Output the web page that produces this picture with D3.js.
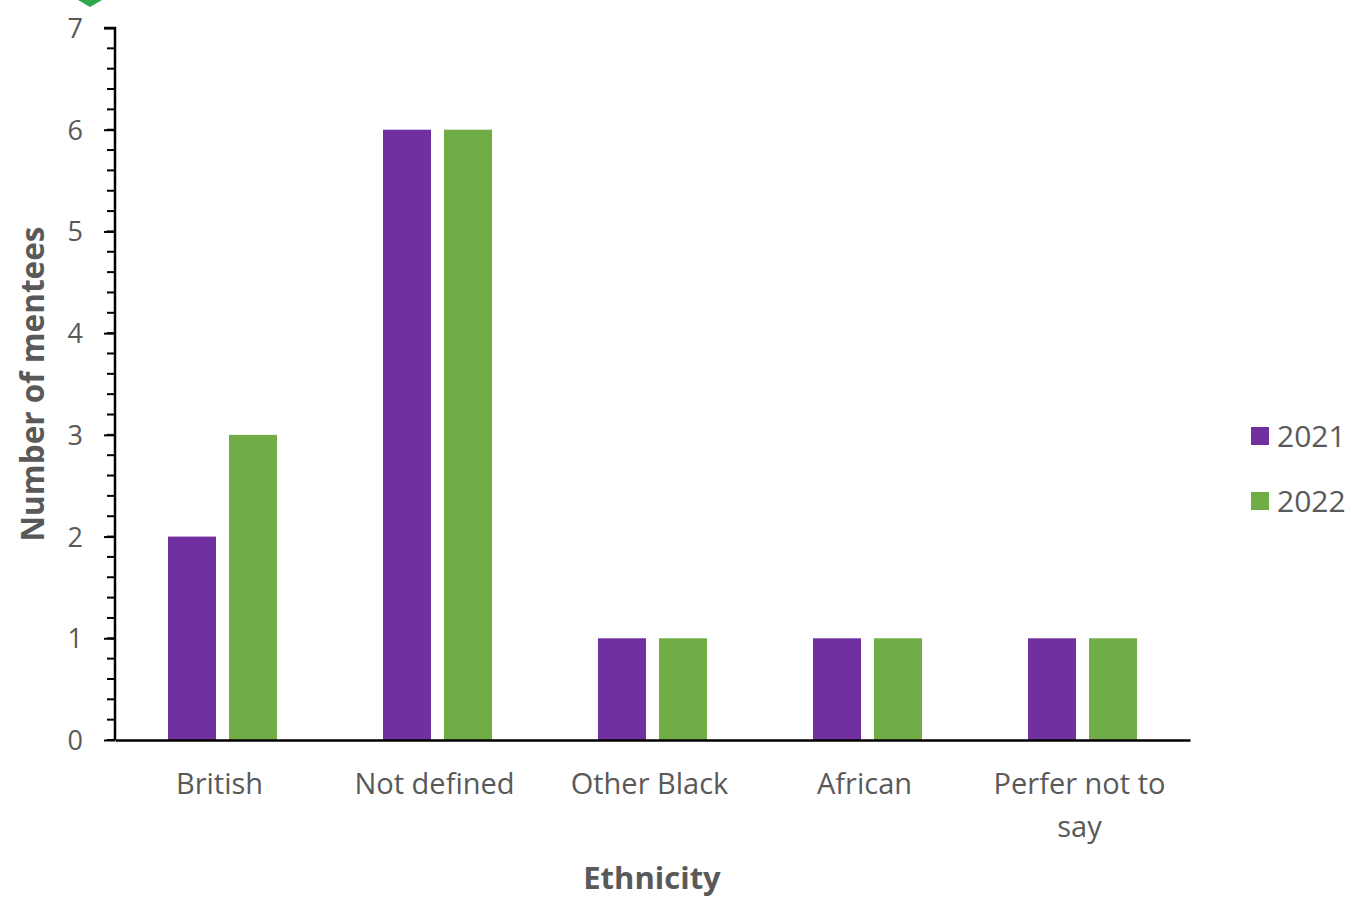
<!DOCTYPE html>
<html><head><meta charset="utf-8">
<script src="https://cdn.jsdelivr.net/npm/d3@7"></script>
<style>body{margin:0;background:#fff}svg{display:block}text{font-family:"Open Sans","Liberation Sans",sans-serif;fill:#595959}</style>
</head><body>
<svg id="chart" width="1352" height="899"></svg>
<script>
const categories = ["British", "Not defined", "Other Black", "African", "Perfer not to say"];
const categoryLines = [["British"], ["Not defined"], ["Other Black"], ["African"], ["Perfer not to", "say"]];
const seriesNames = ["2021", "2022"];
const values2021 = [2, 6, 1, 1, 1];
const values2022 = [3, 6, 1, 1, 1];
const yTicks = [0, 1, 2, 3, 4, 5, 6, 7];
const colors = ["#7030A0", "#70AD47"];

(function(){
const FONT = '"Open Sans","Liberation Sans",sans-serif';
const svg = d3.select("#chart");
const mLeft = 115, mRight = 1190, mTop = 28, mBottom = 740;

const x0 = d3.scaleBand().domain(categories).range([mLeft, mRight]).padding(0);
const x1 = d3.scaleBand().domain(seriesNames).range([53, 162]).paddingInner(13/61).paddingOuter(0);
const y = d3.scaleLinear().domain([0, 7]).range([mBottom, mTop]);

// decorative marker at top
svg.append("path").attr("d", "M78,0 L102,0 L90,7 Z").attr("fill", "#2EA84A");

// bars
const series = [values2021, values2022];
seriesNames.forEach((s, si) => {
  svg.append("g").selectAll("rect").data(categories).join("rect")
    .attr("x", c => x0(c) + x1(s))
    .attr("width", x1.bandwidth())
    .attr("y", (c, i) => y(series[si][i]))
    .attr("height", (c, i) => mBottom - y(series[si][i]))
    .attr("fill", colors[si]);
});

// y axis minor ticks
const minor = d3.range(0, 7.001, 0.2).map(v => +v.toFixed(1));
svg.append("g").selectAll("line").data(minor).join("line")
  .attr("x1", mLeft - 8).attr("x2", mLeft)
  .attr("y1", d => y(d)).attr("y2", d => y(d))
  .attr("stroke", "#000").attr("stroke-width", 2);

const yAxis = d3.axisLeft(y).tickValues(yTicks).tickSize(11).tickPadding(21).tickFormat(d3.format("d"));
const gy = svg.append("g").attr("transform", `translate(${mLeft},0)`).call(yAxis);
gy.select(".domain").attr("stroke", "#000").attr("stroke-width", 2.5).attr("d", `M-11,${mTop}H0V${mBottom}`);
gy.selectAll(".tick line").attr("stroke", "#000").attr("stroke-width", 2);
gy.selectAll(".tick text").attr("font-size", 27).attr("fill", "#595959").attr("dy", "0.35em")
  .style("font-family", FONT);

// x axis
const xAxis = d3.axisBottom(x0).tickSize(0).tickFormat("");
const gx = svg.append("g").attr("transform", `translate(0,${mBottom})`).call(xAxis);
gx.select(".domain").attr("stroke", "#000").attr("stroke-width", 2.5);

svg.append("g").selectAll("text").data(categories).join("text")
  .attr("y", 784)
  .attr("text-anchor", "middle")
  .attr("font-size", 29)
  .each(function(c, i) {
    const t = d3.select(this);
    categoryLines[i].forEach((ln, j) => {
      t.append("tspan").attr("x", x0(c) + x0.bandwidth() / 2 - 3).attr("dy", j === 0 ? "0.35em" : "1.48em").text(ln);
    });
  });

// axis titles
svg.append("text").attr("x", 652).attr("y", 878).attr("dy", "0.35em").attr("text-anchor", "middle")
  .attr("font-size", 31).attr("font-weight", "bold").text("Ethnicity");
svg.append("text").attr("transform", "translate(33,384) rotate(-90)").attr("dy", "0.35em").attr("text-anchor", "middle")
  .attr("font-size", 31.5).attr("font-weight", "bold").text("Number of mentees");

// legend
const lg = svg.append("g");
seriesNames.forEach((s, i) => {
  const yy = 436 + i * 65;
  lg.append("rect").attr("x", 1251).attr("y", yy - 9).attr("width", 18).attr("height", 18).attr("fill", colors[i]);
  lg.append("text").attr("x", 1277).attr("y", yy).attr("dy", "0.35em").attr("font-size", 30).text(s);
});
})();
</script>
</body></html>
